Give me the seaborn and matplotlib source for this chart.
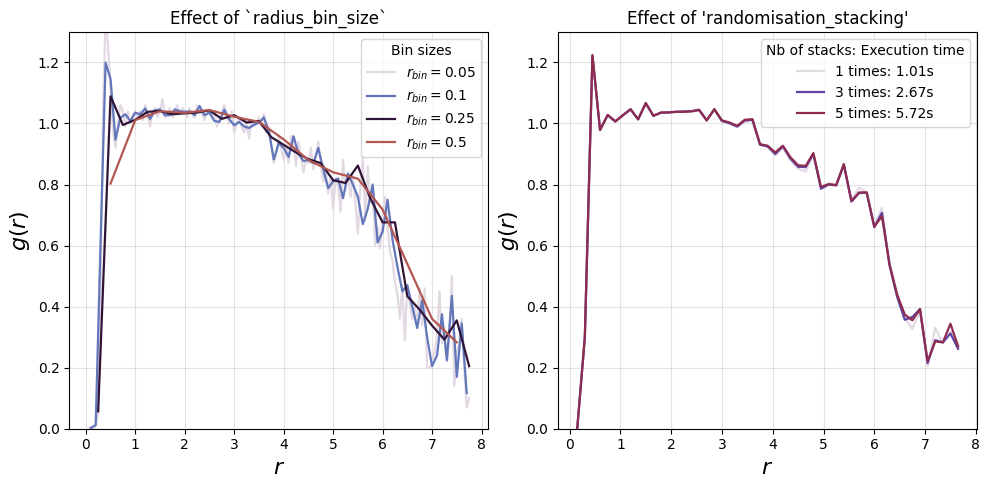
import numpy as np
import matplotlib
matplotlib.use("Agg")
import matplotlib.pyplot as plt
import seaborn as sns

# ---- left panel: effect of radius_bin_size ----
bin_sizes = [0.05, 0.1, 0.25, 0.5]

g_005 = [
    0.0, 0.0, 0.0, 0.01, 0.05, 0.45, 1.05, 1.36, 1.25, 1.12,
    0.98, 0.92, 1.0, 1.06, 1.04, 0.99, 1.04, 1.0, 1.03, 1.04,
    1.02, 1.04, 1.01, 1.06, 1.03, 0.99, 1.04, 1.05, 1.02, 1.04,
    1.08, 1.02, 1.03, 1.05, 1.02, 1.04, 1.06, 1.03, 1.05, 1.04,
    1.02, 1.05, 1.03, 1.02, 1.06, 1.05, 1.03, 1.01, 1.04, 1.03,
    1.02, 1.04, 0.99, 1.01, 1.04, 1.06, 1.02, 1.0, 1.04, 0.97,
    1.0, 1.02, 0.99, 0.97, 1.0, 0.95, 1.01, 0.99, 1.0, 1.02,
    0.99, 1.03, 0.97, 0.99, 0.93, 0.87, 0.90, 0.96, 0.92, 0.88,
    0.93, 0.87, 0.96, 0.93, 0.86, 0.94, 0.89, 0.84, 0.88, 0.87,
    0.92, 0.85, 0.88, 0.94, 0.86, 0.81, 0.85, 0.77, 0.83, 0.72,
    0.82, 0.80, 0.71, 0.88, 0.78, 0.84, 0.76, 0.83, 0.74, 0.64,
    0.79, 0.89, 0.68, 0.86, 0.74, 0.79, 0.60, 0.66, 0.59, 0.70,
    0.76, 0.66, 0.58, 0.55, 0.48, 0.44, 0.36, 0.47, 0.29, 0.47,
    0.41, 0.36, 0.40, 0.34, 0.46, 0.34, 0.46, 0.20, 0.20, 0.21,
    0.25, 0.30, 0.45, 0.28, 0.33, 0.22, 0.30, 0.50, 0.14, 0.25,
    0.28, 0.36, 0.20, 0.07, 0.10,
]

g_01 = [
    0.003, 0.012, 0.62, 1.199, 1.146, 0.947, 1.019, 1.03, 1.008, 1.035,
    1.03, 1.049, 1.015, 1.043, 1.046, 1.027, 1.027, 1.046, 1.04, 1.038,
    1.04, 1.027, 1.057, 1.027, 1.036, 1.008, 1.005, 1.045, 1.014, 0.994,
    1.005, 0.99, 0.985, 0.996, 1.002, 1.02, 0.975, 0.882, 0.935, 0.92,
    0.89, 0.958, 0.9, 0.877, 0.88, 0.87, 0.92, 0.85, 0.788, 0.81,
    0.82, 0.755, 0.835, 0.80, 0.76, 0.67, 0.72, 0.80, 0.61, 0.645,
    0.75, 0.62, 0.53, 0.45, 0.47, 0.40, 0.33, 0.42, 0.30, 0.205,
    0.24, 0.375, 0.225, 0.435, 0.17, 0.345, 0.117,
]

g_025 = [
    0.057, 1.089, 0.995, 1.012, 1.038, 1.041, 1.03, 1.033, 1.036, 1.043,
    1.015, 1.027, 1.003, 1.008, 0.955, 0.93, 0.905, 0.883, 0.87, 0.814,
    0.805, 0.862, 0.755, 0.676, 0.676, 0.434, 0.39, 0.338, 0.292, 0.355,
    0.205,
]

g_05 = [
    0.803, 1.011, 1.04, 1.035, 1.044, 1.022, 1.005, 0.948, 0.88, 0.84,
    0.819, 0.718, 0.54, 0.36, 0.283,
]

# ---- right panel: effect of randomisation_stacking ----
stack_bin = 0.15
stack_labels = ["1 times: 1.01s", "3 times: 2.67s", "5 times: 5.72s"]

g_stack5 = [
    0.0, 0.30, 1.224, 0.979, 1.028, 1.007, 1.027, 1.047, 1.014, 1.067,
    1.025, 1.036, 1.036, 1.038, 1.038, 1.040, 1.045, 1.010, 1.047, 1.010,
    1.003, 0.992, 1.012, 1.014, 0.932, 0.927, 0.905, 0.927, 0.889, 0.863,
    0.861, 0.903, 0.792, 0.801, 0.798, 0.867, 0.746, 0.774, 0.774, 0.662,
    0.696, 0.538, 0.439, 0.374, 0.355, 0.392, 0.221, 0.286, 0.283, 0.344,
    0.27,
]
g_stack3 = [
    0.0, 0.30, 1.222, 0.978, 1.027, 1.006, 1.027, 1.046, 1.013, 1.066,
    1.025, 1.035, 1.036, 1.038, 1.039, 1.040, 1.044, 1.010, 1.046, 1.008,
    1.001, 0.990, 1.010, 1.012, 0.930, 0.925, 0.900, 0.925, 0.885, 0.858,
    0.857, 0.900, 0.786, 0.800, 0.797, 0.865, 0.744, 0.772, 0.773, 0.660,
    0.707, 0.535, 0.432, 0.357, 0.366, 0.392, 0.215, 0.290, 0.283, 0.312,
    0.262,
]
g_stack1 = [
    0.0, 0.29, 1.218, 0.980, 1.025, 1.008, 1.025, 1.044, 1.015, 1.064,
    1.027, 1.034, 1.037, 1.040, 1.042, 1.038, 1.043, 1.012, 1.044, 1.006,
    0.998, 0.988, 1.005, 1.010, 0.935, 0.922, 0.895, 0.920, 0.878, 0.852,
    0.842, 0.898, 0.790, 0.805, 0.800, 0.860, 0.750, 0.790, 0.775, 0.668,
    0.723, 0.545, 0.445, 0.365, 0.327, 0.385, 0.206, 0.330, 0.280, 0.320,
    0.275,
]

cmap = sns.color_palette("twilight", as_cmap=True)

fig, axes = plt.subplots(1, 2, figsize=(9.89, 4.9), dpi=100)
fig.subplots_adjust(left=0.070, right=0.988, top=0.935, bottom=0.125, wspace=0.167)

# left
ax = axes[0]
left_series = [g_005, g_01, g_025, g_05]
for i, (b, g) in enumerate(zip(bin_sizes, left_series)):
    r = b * np.arange(1, len(g) + 1)
    sns.lineplot(x=r, y=g, ax=ax, color=cmap(i / len(bin_sizes)),
                 label=f"$r_{{bin}} = {b}$", linewidth=1.6)
ax.set_title("Effect of `radius_bin_size`")
ax.legend(title="Bin sizes", loc="upper right")

# right
ax = axes[1]
right_series = [g_stack1, g_stack3, g_stack5]
for i, (lab, g) in enumerate(zip(stack_labels, right_series)):
    r = stack_bin * np.arange(1, len(g) + 1)
    sns.lineplot(x=r, y=g, ax=ax, color=cmap(i / len(stack_labels)),
                 label=lab, linewidth=1.6)
ax.set_title("Effect of 'randomisation_stacking'")
ax.legend(title="Nb of stacks: Execution time", loc="upper right")

for ax in axes:
    ax.set_ylim(0, 1.3)
    ax.set_xticks(range(0, 9))
    ax.set_xlabel("$r$", fontsize=16)
    ax.set_ylabel("$g(r)$", fontsize=16)
    ax.grid(alpha=0.35)

plt.savefig("out.png", dpi=100)
